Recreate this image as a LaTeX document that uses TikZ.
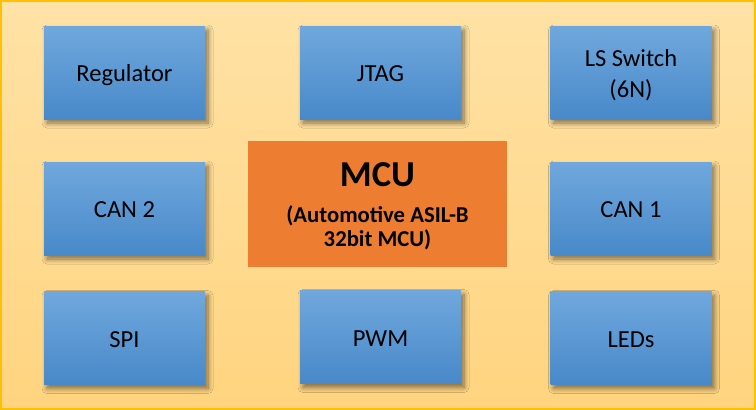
\documentclass[tikz,border=0pt]{standalone}
\usepackage{fontspec}
\setmainfont{Carlito}
\usetikzlibrary{shadows.blur}
\definecolor{bgtop}{HTML}{FFE2A6}
\definecolor{bgbot}{HTML}{FFD47F}
\definecolor{bord}{HTML}{FFC000}
\definecolor{bluetop}{HTML}{70A8DD}
\definecolor{bluebot}{HTML}{4889C9}
\definecolor{mcuor}{HTML}{ED7D31}
\newcommand{\bstrut}{\rule[-5.2pt]{0pt}{29.2pt}}
\tikzset{
  blk/.style={rectangle, inner sep=0pt, minimum width=161pt, minimum height=93pt,
    top color=bluetop, bottom color=bluebot, draw=none, align=center,
    font=\fontsize{24.5}{31}\selectfont, text=black,
    blur shadow={shadow xshift=3pt, shadow yshift=-4pt, shadow blur steps=8, shadow blur radius=5pt, shadow opacity=50}},
  mcubox/.style={rectangle, inner sep=0pt, minimum width=259pt, minimum height=126pt,
    fill=mcuor, draw=none, align=center, text=black,
    font=\fontsize{22.7}{24}\selectfont\bfseries}
}
\begin{document}
\begin{tikzpicture}[x=1pt,y=-1pt]
\useasboundingbox (0,0) rectangle (756,410);
\shade[top color=bgtop, bottom color=bgbot] (0,0) rectangle (756,410);
\draw[bord, line width=2pt] (1,1) rectangle (755,409);
\node[blk] (reg)  at (124.5,72.5) {\bstrut Regulator};
\node[blk] (jtag) at (380.5,72.5) {\bstrut JTAG};
\node[blk] (ls)   at (631,72.5) {\bstrut LS Switch\\\bstrut (6N)};
\node[blk] (can2) at (124.5,208.5) {\bstrut CAN 2};
\node[blk] (can1) at (631,208.5) {\bstrut CAN 1};
\node[blk] (spi)  at (124.5,338) {\bstrut SPI};
\node[blk] (pwm)  at (380.5,337) {\bstrut PWM};
\node[blk] (leds) at (631,338) {\bstrut LEDs};
\node[mcubox] (mcu) at (377.5,204) {{\fontsize{36.5}{38}\selectfont\rule{0pt}{28.5pt}MCU}\\[12pt](Automotive ASIL-B\\32bit MCU)};
\end{tikzpicture}
\end{document}
